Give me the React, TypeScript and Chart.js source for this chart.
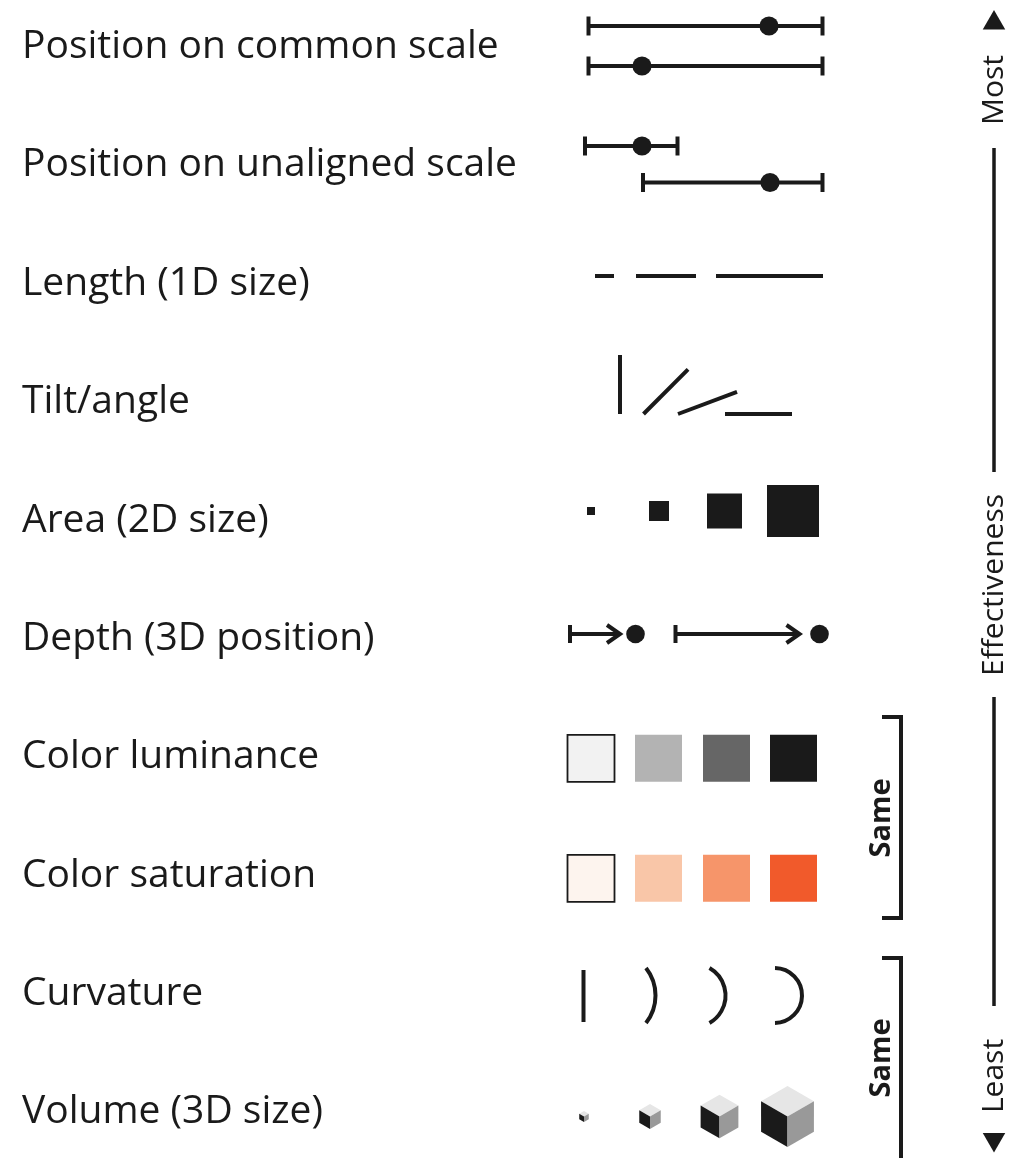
import React, { useEffect, useRef } from 'react';
import { Chart, registerables } from 'chart.js';

Chart.register(...registerables);

const INK = '#1a1a1a';
const FONT = '"Open Sans", "Noto Sans", sans-serif';

// Channels, most → least effective (y-axis tick labels)
const channels = [
  'Position on common scale',
  'Position on unaligned scale',
  'Length (1D size)',
  'Tilt/angle',
  'Area (2D size)',
  'Depth (3D position)',
  'Color luminance',
  'Color saturation',
  'Curvature',
  'Volume (3D size)',
];
const rowCenters = [47, 165, 283.5, 402, 520.5, 638.5, 757, 875.5, 993.5, 1112];

// Position rows (common + unaligned scales)
const rangeStarts = [588.5, 588.5, 585, 643];
const rangeEnds = [822.5, 822.5, 677.5, 822.5];
const rangeDots = [769, 642, 642, 770];
const rangeYs = [26, 66, 146, 182.5];

// Length
const lengthStarts = [595, 636, 716];
const lengthEnds = [614, 696, 823];
const lengthY = 276;

// Tilt / angle
const tiltStartX = [620, 643.5, 678, 725];
const tiltAngles = [90, 45, 20.5, 0];
const tiltLengths = [59, 63, 63, 67];
const tiltBaseY = 414;

// Area
const areaX = [591, 659, 724.5, 793];
const areaSides = [8, 20, 35, 52];
const areaY = 511;

// Depth
const depthStarts = [570, 675.5];
const depthTips = [620, 799.5];
const depthDots = [635.5, 819.5];
const depthY = 634;

// Colour swatches
const swatchX = [591, 658.5, 726.5, 793.5];
const swatchSide = 47;
const lumColors = ['#f2f2f2', '#b3b3b3', '#666666', '#1a1a1a'];
const lumY = 758.3;
const satColors = ['#fdf4ee', '#f9c6a8', '#f6956a', '#f15a2b'];
const satY = 878.3;

// Curvature (chord x, sagitta)
const curveX = [583.5, 646, 709.5, 775];
const curveSagitta = [0, 9.5, 16, 27];
const curveTop = 968;
const curveBottom = 1023;

// Volume (isometric cubes)
const cubeX = [584, 650, 719.5, 787.5];
const cubeSizes = [5.5, 12.4, 21.8, 30.5];
const cubeY = 1116.5;
const cubeFaces = ['#e6e6e6', '#1a1a1a', '#999999'];

// "Same" brackets
const bracketTops = [717, 958];
const bracketBottoms = [918, 1175];
const bracketX = 901;
const bracketArm = 882;
const sameLabelX = 882;
const sameLabelY = [818, 1058];

// Effectiveness axis on the right
const effX = 994;
const effSegments = [
  [148, 472],
  [697, 1006],
];
const effArrowY = [23, 1139.5];
const effArrowRot = [0, 180];
const effLabels = ['Most', 'Effectiveness', 'Least'];
const effLabelY = [90, 585, 1076];

const seg = (pts: { x: number; y: number }[], extra: any = {}) => ({
  type: 'line',
  data: pts,
  borderColor: INK,
  borderWidth: 4,
  pointRadius: 0,
  borderCapStyle: 'butt',
  borderJoinStyle: 'miter',
  fill: false,
  tension: 0,
  ...extra,
});

function buildDatasets() {
  const ds: any[] = [];
  // position ranges with caps
  rangeStarts.forEach((s, i) => {
    ds.push(
      seg(
        [
          { x: s, y: rangeYs[i] },
          { x: rangeEnds[i], y: rangeYs[i] },
        ],
        { pointStyle: 'line', pointRotation: 90, pointRadius: 9.5, pointBorderWidth: 4, pointBorderColor: INK }
      )
    );
  });
  ds.push({
    type: 'scatter',
    data: rangeDots.map((x, i) => ({ x, y: rangeYs[i] })),
    pointStyle: 'circle',
    pointRadius: 9.6,
    backgroundColor: INK,
    borderWidth: 0,
  });
  // length
  lengthStarts.forEach((s, i) =>
    ds.push(
      seg([
        { x: s, y: lengthY },
        { x: lengthEnds[i], y: lengthY },
      ])
    )
  );
  // tilt
  tiltStartX.forEach((s, i) => {
    const a = (tiltAngles[i] * Math.PI) / 180;
    ds.push(
      seg([
        { x: s, y: tiltBaseY },
        { x: s + Math.cos(a) * tiltLengths[i], y: tiltBaseY - Math.sin(a) * tiltLengths[i] },
      ])
    );
  });
  // area
  ds.push({
    type: 'scatter',
    data: areaX.map((x) => ({ x, y: areaY })),
    pointStyle: 'rect',
    pointRadius: areaSides.map((s) => s / Math.SQRT2),
    backgroundColor: INK,
    borderWidth: 0,
  });
  // depth
  depthStarts.forEach((s, i) => {
    ds.push(
      seg(
        [
          { x: s, y: depthY },
          { x: depthTips[i] - 1, y: depthY },
        ],
        { pointStyle: 'line', pointRotation: 90, pointRadius: [9, 0], pointBorderWidth: 4, pointBorderColor: INK }
      )
    );
    ds.push(
      seg([
        { x: depthTips[i] - 13, y: depthY - 9 },
        { x: depthTips[i], y: depthY },
        { x: depthTips[i] - 13, y: depthY + 9 },
      ])
    );
  });
  ds.push({
    type: 'scatter',
    data: depthDots.map((x) => ({ x, y: depthY })),
    pointStyle: 'circle',
    pointRadius: 9.3,
    backgroundColor: INK,
    borderWidth: 0,
  });
  // swatches
  [
    [lumColors, lumY],
    [satColors, satY],
  ].forEach(([cols, yy]: any) => {
    ds.push({
      type: 'scatter',
      data: swatchX.map((x) => ({ x, y: yy })),
      pointStyle: 'rect',
      pointRadius: swatchSide / Math.SQRT2,
      backgroundColor: cols,
      borderColor: INK,
      borderWidth: [1.8, 0, 0, 0],
    });
  });
  // straight curvature mark
  curveX.forEach((cx, i) => {
    if (curveSagitta[i] === 0)
      ds.push(
        seg([
          { x: cx, y: curveTop + 2 },
          { x: cx, y: curveBottom - 1 },
        ])
      );
  });
  // brackets
  bracketTops.forEach((t, i) =>
    ds.push(
      seg([
        { x: bracketArm, y: t },
        { x: bracketX, y: t },
        { x: bracketX, y: bracketBottoms[i] },
        { x: bracketArm, y: bracketBottoms[i] },
      ])
    )
  );
  // effectiveness axis
  effSegments.forEach(([a, b]) =>
    ds.push(
      seg(
        [
          { x: effX, y: a },
          { x: effX, y: b },
        ],
        { borderWidth: 3.5 }
      )
    )
  );
  ds.push({
    type: 'scatter',
    data: effArrowY.map((y) => ({ x: effX, y })),
    pointStyle: 'triangle',
    pointRotation: effArrowRot,
    pointRadius: 13,
    backgroundColor: INK,
    borderWidth: 0,
  });
  return ds;
}

const decorPlugin = {
  id: 'decor',
  afterDatasetsDraw(chart: any) {
    const { ctx, scales } = chart;
    const px = (v: number) => scales.x.getPixelForValue(v);
    const py = (v: number) => scales.y.getPixelForValue(v);
    const unit = Math.abs(px(1) - px(0));
    ctx.save();
    // curved arcs
    ctx.strokeStyle = INK;
    ctx.lineWidth = 4;
    ctx.lineCap = 'butt';
    const half = (curveBottom - curveTop) / 2;
    curveX.forEach((cx, i) => {
      const s = curveSagitta[i];
      if (s === 0) return;
      const r = (half * half + s * s) / (2 * s);
      const a = Math.asin(Math.min(1, half / r));
      ctx.beginPath();
      ctx.arc(px(cx + s - r), py((curveTop + curveBottom) / 2), r * unit, -a, a);
      ctx.stroke();
    });
    // cubes
    cubeX.forEach((cx, i) => {
      const s = cubeSizes[i] * unit;
      const X = px(cx);
      const Y = py(cubeY);
      const w = (s * Math.sqrt(3)) / 2;
      const faces = [
        [
          [X, Y - s],
          [X + w, Y - s / 2],
          [X, Y],
          [X - w, Y - s / 2],
        ],
        [
          [X - w, Y - s / 2],
          [X, Y],
          [X, Y + s],
          [X - w, Y + s / 2],
        ],
        [
          [X, Y],
          [X + w, Y - s / 2],
          [X + w, Y + s / 2],
          [X, Y + s],
        ],
      ];
      faces.forEach((f, k) => {
        ctx.beginPath();
        f.forEach(([a, b], j) => (j ? ctx.lineTo(a, b) : ctx.moveTo(a, b)));
        ctx.closePath();
        ctx.fillStyle = cubeFaces[k];
        ctx.fill();
      });
    });
    // rotated texts
    ctx.fillStyle = INK;
    ctx.textAlign = 'center';
    ctx.textBaseline = 'middle';
    const rot = (t: string, x: number, y: number, font: string) => {
      ctx.save();
      ctx.translate(px(x), py(y));
      ctx.rotate(-Math.PI / 2);
      ctx.font = font;
      ctx.fillText(t, 0, 0);
      ctx.restore();
    };
    sameLabelY.forEach((y) => rot('Same', sameLabelX, y, `bold 29px ${FONT}`));
    effLabels.forEach((t, i) => rot(t, effX, effLabelY[i], `30px ${FONT}`));
    ctx.restore();
  },
};

export default function App() {
  const ref = useRef<HTMLCanvasElement>(null);
  useEffect(() => {
    document.body.style.margin = '0';
    const chart = new Chart(ref.current as HTMLCanvasElement, {
      type: 'scatter',
      data: { datasets: buildDatasets() as any },
      options: {
        animation: false,
        responsive: false,
        events: [],
        layout: { autoPadding: false, padding: { left: 22, right: 0, top: 0, bottom: 0 } },
        plugins: { legend: { display: false }, tooltip: { enabled: false } },
        scales: {
          x: { type: 'linear', display: false, min: 540, max: 1010 },
          y: {
            type: 'linear',
            position: 'left',
            min: 0,
            max: 1158,
            reverse: true,
            grid: { display: false, drawTicks: false },
            border: { display: false },
            afterBuildTicks: (axis: any) => {
              axis.ticks = rowCenters.map((v) => ({ value: v }));
            },
            afterFit: (axis: any) => {
              axis.width = 518;
              axis.paddingTop = 0;
              axis.paddingBottom = 0;
            },
            ticks: {
              autoSkip: false,
              padding: 0,
              crossAlign: 'far',
              color: INK,
              font: { family: FONT, size: 39 },
              callback: (_v: any, i: number) => channels[i],
            },
          },
        },
      } as any,
      plugins: [decorPlugin],
    });
    return () => chart.destroy();
  }, []);
  return (
    <div style={{ position: 'absolute', left: 0, top: 0, width: 1010, height: 1158 }}>
      <canvas ref={ref} width={1010} height={1158} style={{ display: 'block' }} />
    </div>
  );
}
